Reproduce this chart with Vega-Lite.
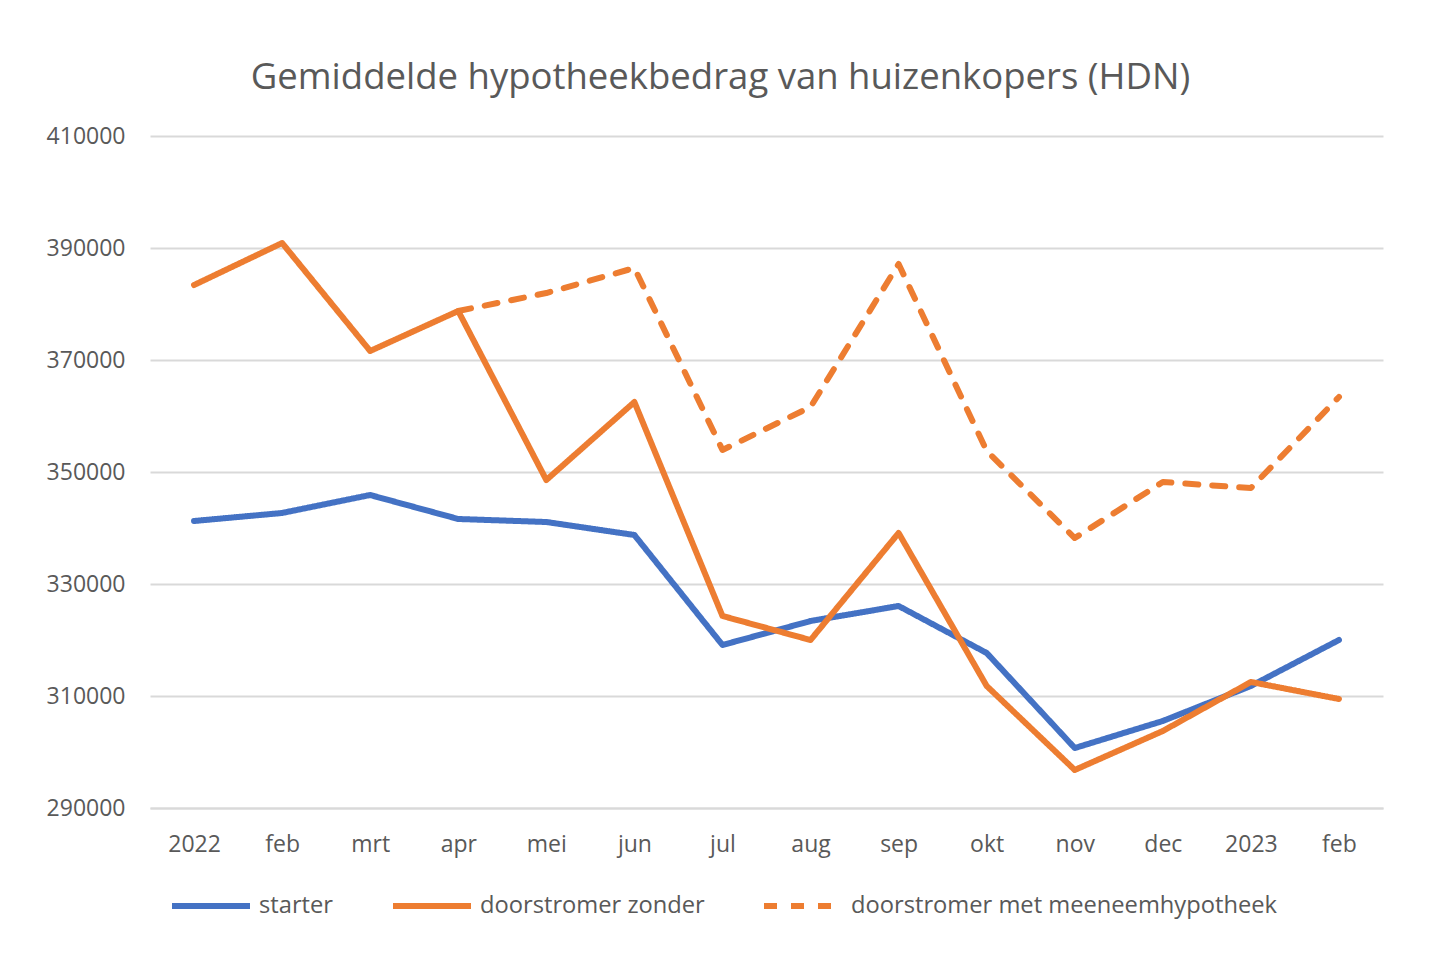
{
  "$schema": "https://vega.github.io/schema/vega-lite/v6.json",
  "width": 1233,
  "height": 672,
  "autosize": {"type": "none"},
  "padding": {"left": 150, "top": 136, "right": 57, "bottom": 162},
  "background": "white",
  "config": {
    "font": "Open Sans",
    "view": {"stroke": null}
  },
  "title": {
    "text": "Gemiddelde hypotheekbedrag van huizenkopers (HDN)",
    "anchor": "middle",
    "dx": -46,
    "offset": 29,
    "fontSize": 36.5,
    "font": "Open Sans",
    "fontWeight": "normal",
    "color": "#595959"
  },
  "data": {
    "values": [
      {"maand": "2022", "reeks": "starter", "bedrag": 341250},
      {"maand": "feb", "reeks": "starter", "bedrag": 342680},
      {"maand": "mrt", "reeks": "starter", "bedrag": 345890},
      {"maand": "apr", "reeks": "starter", "bedrag": 341610},
      {"maand": "mei", "reeks": "starter", "bedrag": 341070},
      {"maand": "jun", "reeks": "starter", "bedrag": 338750},
      {"maand": "jul", "reeks": "starter", "bedrag": 319110},
      {"maand": "aug", "reeks": "starter", "bedrag": 323390},
      {"maand": "sep", "reeks": "starter", "bedrag": 326070},
      {"maand": "okt", "reeks": "starter", "bedrag": 317680},
      {"maand": "nov", "reeks": "starter", "bedrag": 300710},
      {"maand": "dec", "reeks": "starter", "bedrag": 305540},
      {"maand": "2023", "reeks": "starter", "bedrag": 311790},
      {"maand": "feb 2023", "reeks": "starter", "bedrag": 320000},
      {"maand": "2022", "reeks": "doorstromer zonder", "bedrag": 383390},
      {"maand": "feb", "reeks": "doorstromer zonder", "bedrag": 390890},
      {"maand": "mrt", "reeks": "doorstromer zonder", "bedrag": 371610},
      {"maand": "apr", "reeks": "doorstromer zonder", "bedrag": 378750},
      {"maand": "mei", "reeks": "doorstromer zonder", "bedrag": 348570},
      {"maand": "jun", "reeks": "doorstromer zonder", "bedrag": 362500},
      {"maand": "jul", "reeks": "doorstromer zonder", "bedrag": 324290},
      {"maand": "aug", "reeks": "doorstromer zonder", "bedrag": 320000},
      {"maand": "sep", "reeks": "doorstromer zonder", "bedrag": 339110},
      {"maand": "okt", "reeks": "doorstromer zonder", "bedrag": 311790},
      {"maand": "nov", "reeks": "doorstromer zonder", "bedrag": 296790},
      {"maand": "dec", "reeks": "doorstromer zonder", "bedrag": 303750},
      {"maand": "2023", "reeks": "doorstromer zonder", "bedrag": 312500},
      {"maand": "feb 2023", "reeks": "doorstromer zonder", "bedrag": 309460},
      {"maand": "apr", "reeks": "doorstromer met meeneemhypotheek", "bedrag": 378750},
      {"maand": "mei", "reeks": "doorstromer met meeneemhypotheek", "bedrag": 381960},
      {"maand": "jun", "reeks": "doorstromer met meeneemhypotheek", "bedrag": 386430},
      {"maand": "jul", "reeks": "doorstromer met meeneemhypotheek", "bedrag": 353930},
      {"maand": "aug", "reeks": "doorstromer met meeneemhypotheek", "bedrag": 361610},
      {"maand": "sep", "reeks": "doorstromer met meeneemhypotheek", "bedrag": 387140},
      {"maand": "okt", "reeks": "doorstromer met meeneemhypotheek", "bedrag": 353750},
      {"maand": "nov", "reeks": "doorstromer met meeneemhypotheek", "bedrag": 338210},
      {"maand": "dec", "reeks": "doorstromer met meeneemhypotheek", "bedrag": 348210},
      {"maand": "2023", "reeks": "doorstromer met meeneemhypotheek", "bedrag": 347140},
      {"maand": "feb 2023", "reeks": "doorstromer met meeneemhypotheek", "bedrag": 363390}
    ]
  },
  "mark": {"type": "line", "strokeWidth": 6, "strokeCap": "round", "strokeJoin": "round"},
  "encoding": {
    "x": {
      "field": "maand",
      "type": "ordinal",
      "sort": ["2022", "feb", "mrt", "apr", "mei", "jun", "jul", "aug", "sep", "okt", "nov", "dec", "2023", "feb 2023"],
      "scale": {"type": "point", "padding": 0.5},
      "axis": {
        "title": null,
        "labelAngle": 0,
        "labelExpr": "datum.value == 'feb 2023' ? 'feb' : datum.value",
        "ticks": false,
        "grid": false,
        "domainColor": "#D9D9D9",
        "domainWidth": 2,
        "labelFontSize": 23,
        "labelColor": "#595959",
        "labelPadding": 25
      }
    },
    "y": {
      "field": "bedrag",
      "type": "quantitative",
      "scale": {"domain": [290000, 410000], "nice": false, "zero": false},
      "axis": {
        "title": null,
        "values": [290000, 310000, 330000, 350000, 370000, 390000, 410000],
        "format": "d",
        "domain": false,
        "ticks": false,
        "gridColor": "#D9D9D9",
        "gridWidth": 2,
        "labelFontSize": 23,
        "labelColor": "#595959",
        "labelPadding": 25
      }
    },
    "color": {
      "field": "reeks",
      "type": "nominal",
      "sort": ["starter", "doorstromer zonder", "doorstromer met meeneemhypotheek"],
      "scale": {
        "domain": ["starter", "doorstromer zonder", "doorstromer met meeneemhypotheek"],
        "range": ["#4472C4", "#ED7D31", "#ED7D31"]
      },
      "legend": {
        "orient": "none",
        "legendX": 19,
        "legendY": 728,
        "direction": "horizontal",
        "title": null,
        "symbolType": "stroke",
        "symbolSize": 6084,
        "symbolStrokeWidth": 6,
        "labelFontSize": 23.7,
        "labelColor": "#595959",
        "labelOffset": 6,
        "columnPadding": 47,
        "labelLimit": 600
      }
    },
    "strokeDash": {
      "field": "reeks",
      "type": "nominal",
      "sort": ["starter", "doorstromer zonder", "doorstromer met meeneemhypotheek"],
      "scale": {
        "domain": ["starter", "doorstromer zonder", "doorstromer met meeneemhypotheek"],
        "range": [[1, 0], [1, 0], [13, 14]]
      }
    }
  }
}
